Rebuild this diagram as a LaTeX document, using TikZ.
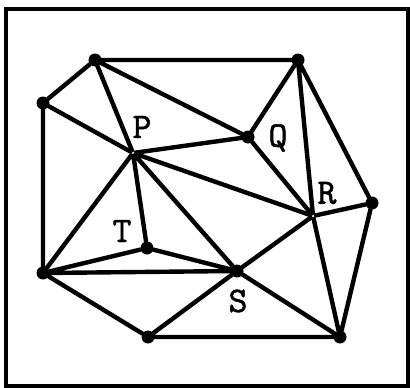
\documentclass[tikz,border=0pt]{standalone}
\usepackage{tikz}
\usepackage{fontspec}
\newfontfamily\lblfont[FakeBold=1.3]{lmmono10-regular.otf}
\usetikzlibrary{positioning}

\begin{document}
\begin{tikzpicture}[x=1pt,y=-1pt,
 v/.style={circle,fill=black,inner sep=0pt,minimum size=13pt},
 o/.style={circle,draw=black,fill=white,line width=1.2pt,inner sep=0pt,minimum size=5pt},
 e/.style={line width=4.4pt,line cap=round},
 lbl/.style={font=\fontsize{36}{36}\selectfont\lblfont}]
\useasboundingbox (0,0) rectangle (410,388);
\draw[line width=3.5pt] (6,9) rectangle (408,386);
\node[v] (a) at (95,60) {};
\node[v] (b) at (43,103) {};
\node[o] (p) at (133,153) {};
\node[v] (q) at (248,137) {};
\node[v] (c) at (298,60) {};
\node[o] (r) at (313,216) {};
\node[v] (d) at (372,203) {};
\node[v] (t) at (147,248) {};
\node[v] (e) at (43,273) {};
\node[v] (s) at (237,271) {};
\node[v] (f) at (148,337) {};
\node[v] (g) at (340,337) {};
\node[lbl] (lp) at (142,127) {P};
\node[lbl] (lq) at (278,138) {Q};
\node[lbl] (lr) at (327,193) {R};
\node[lbl] (lt) at (122,231) {T};
\node[lbl] (ls) at (238,301) {S};
\draw[e] (a)--(c) (a)--(b) (a)--(p) (a)--(q);
\draw[e] (b)--(e) (b)--(p);
\draw[e] (p)--(q) (p)--(t) (p)--(e) (p)--(s) (p)--(r);
\draw[e] (q)--(c) (q)--(r) (c)--(r) (c)--(d);
\draw[e] (r)--(d) (r)--(s) (r)--(g) (d)--(g);
\draw[e] (t)--(e) (t)--(s) (e)--(s) (e)--(f);
\draw[e] (f)--(s) (f)--(g) (s)--(g);
\end{tikzpicture}
\end{document}
